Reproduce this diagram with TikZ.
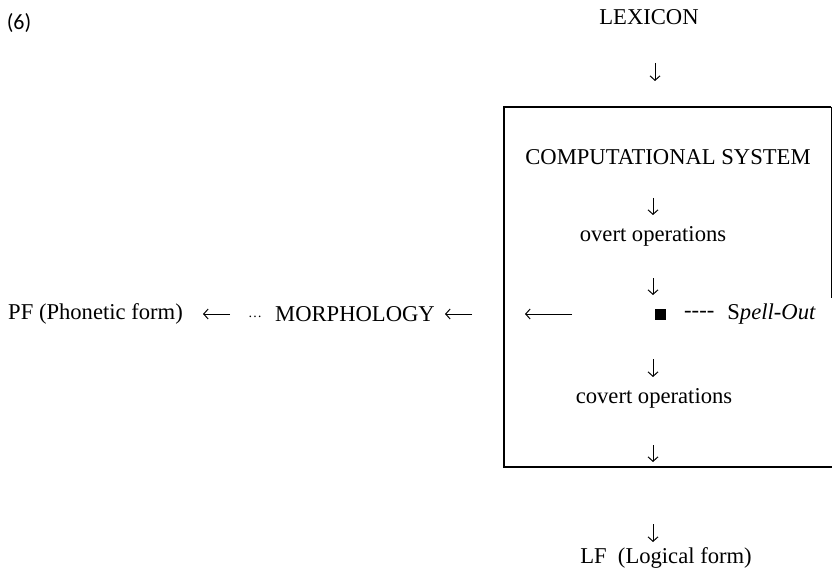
\documentclass[tikz,border=0pt]{standalone}
\usepackage{fontspec}
\setmainfont{Liberation Serif}
\newfontfamily\carlito{Carlito}
\usetikzlibrary{arrows.meta}
\begin{document}
\begin{tikzpicture}[x=1bp,y=-1bp,
  txt/.style={inner sep=0pt, font=\fontsize{22.7}{26}\selectfont},
  arr/.style={line width=1pt, -{Straight Barb[length=4.5pt,width=10pt]}},
  boxline/.style={line width=1.4pt}]
\useasboundingbox (0,0) rectangle (832,571);
% labels
\node[inner sep=0pt, font=\carlito\fontsize{22}{26}\selectfont] (six) at (19,23) {(6)};
\node[txt] (lex) at (649,17) {LEXICON};
\node[txt] (cs) at (668,157) {COMPUTATIONAL SYSTEM};
\node[txt] (ov) at (653,236) {overt operations};
\node[fill, minimum size=11bp, inner sep=0pt] (sq) at (660,314) {};
\node[txt, anchor=west] (dash) at (684,314) {-{}-{}-{}-};
\node[txt, anchor=east] (so) at (816,314) {S\textit{pell-Out}};
\node[txt] (cov) at (654,398) {covert operations};
\node[txt] (lf) at (666,558) {LF\enspace(Logical form)};
\node[txt, anchor=west] (pf) at (8,314) {PF (Phonetic form)};
\node[txt, anchor=west] (dots) at (248,317) {\fontsize{14}{16}\selectfont\ldots};
\node[txt, anchor=west] (mor) at (275,314) {MORPHOLOGY};
% box
\draw[boxline] (831,107) -- (504,107) -- (504,467) -- (832,467);
\draw[line width=1pt] (831,107) -- (831,298);
% arrow connectors
\coordinate (a1s) at (655,63);  \coordinate (a1e) at (655,81);
\coordinate (a2s) at (653,198); \coordinate (a2e) at (653,215);
\coordinate (a3s) at (653,278); \coordinate (a3e) at (653,295);
\coordinate (a4s) at (653,359); \coordinate (a4e) at (653,377);
\coordinate (a5s) at (653,445); \coordinate (a5e) at (653,462);
\coordinate (a6s) at (653,524); \coordinate (a6e) at (653,542);
\draw[arr] (a1s) -- (a1e);
\draw[arr] (a2s) -- (a2e);
\draw[arr] (a3s) -- (a3e);
\draw[arr] (a4s) -- (a4e);
\draw[arr] (a5s) -- (a5e);
\draw[arr] (a6s) -- (a6e);
\coordinate (h1s) at (572,314); \coordinate (h1e) at (525,314);
\coordinate (h2s) at (472,314); \coordinate (h2e) at (445,314);
\coordinate (h3s) at (230,314); \coordinate (h3e) at (203,314);
\draw[arr] (h1s) -- (h1e);
\draw[arr] (h2s) -- (h2e);
\draw[arr] (h3s) -- (h3e);
\end{tikzpicture}
\end{document}
